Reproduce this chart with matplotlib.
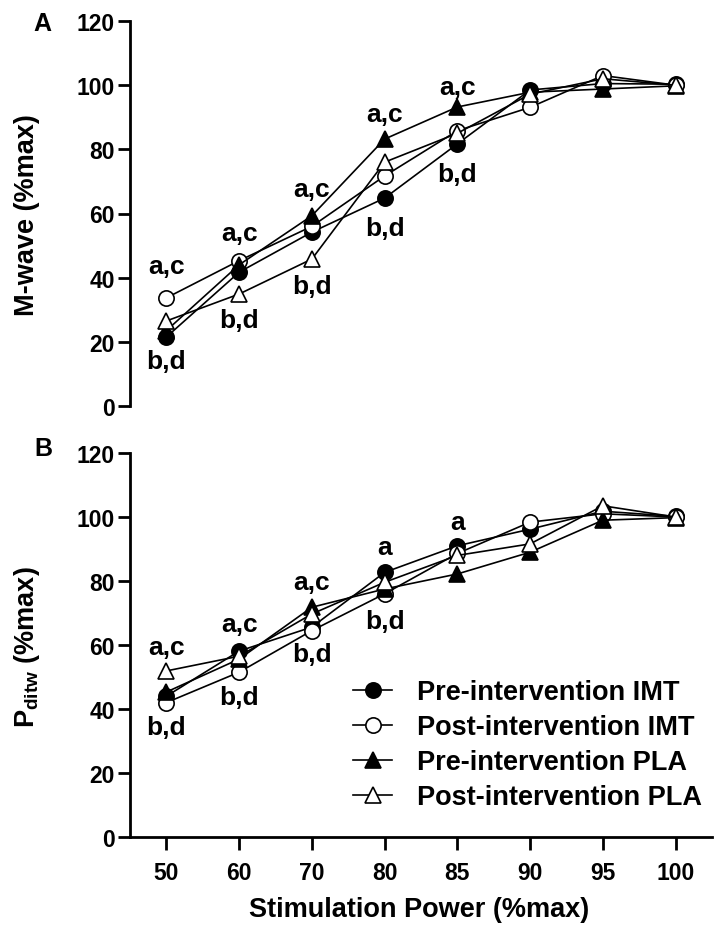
import matplotlib.pyplot as plt
import numpy as np

plt.rcParams['font.family'] = ['Liberation Sans', 'DejaVu Sans']
plt.rcParams['font.weight'] = 'bold'
plt.rcParams['mathtext.fontset'] = 'custom'
plt.rcParams['mathtext.bf'] = 'Liberation Sans:bold'

# stimulation power categories (%max)
power = ["50", "60", "70", "80", "85", "90", "95", "100"]

# Panel A: M-wave (%max)
mw_pre_imt = [21.5, 41.7, 54.2, 64.8, 81.7, 98.5, 100.5, 100.3]
mw_post_imt = [33.7, 45.3, 56.0, 71.7, 85.8, 93.1, 103.0, 100.0]
mw_pre_pla = [23.5, 44.0, 59.3, 83.2, 93.2, 97.8, 98.8, 99.8]
mw_post_pla = [26.5, 34.9, 45.8, 76.0, 85.0, 97.2, 102.0, 100.0]

# Panel B: Pditw (%max)
pd_pre_imt = [44.0, 58.1, 65.6, 82.7, 91.0, 96.2, 101.8, 100.2]
pd_post_imt = [42.0, 51.5, 64.5, 76.0, 88.6, 98.4, 101.0, 100.0]
pd_pre_pla = [45.3, 55.6, 71.8, 77.5, 82.2, 89.0, 99.0, 99.8]
pd_post_pla = [51.9, 56.5, 69.7, 79.6, 88.0, 91.6, 103.5, 100.0]

labels = ["Pre-intervention IMT", "Post-intervention IMT",
          "Pre-intervention PLA", "Post-intervention PLA"]

# significance letters: (category index, text, y value of text centre)
mw_sig = [(0, "a,c", 43.5), (0, "b,d", 14.0), (1, "a,c", 54.0), (1, "b,d", 26.8),
          (2, "a,c", 67.6), (2, "b,d", 37.5), (3, "a,c", 91.0), (3, "b,d", 55.4),
          (4, "a,c", 99.5), (4, "b,d", 72.3)]
pd_sig = [(0, "a,c", 59.4), (0, "b,d", 34.4), (1, "a,c", 66.6), (1, "b,d", 43.8),
          (2, "a,c", 79.7), (2, "b,d", 57.2), (3, "a", 90.6), (3, "b,d", 67.5),
          (4, "a", 98.4)]

styles = [dict(marker='o', mfc='black'), dict(marker='o', mfc='white'),
          dict(marker='^', mfc='black'), dict(marker='^', mfc='white')]

x = np.arange(len(power))
W, H = 716, 929

fig = plt.figure(figsize=(7.16, 9.29), dpi=100)
axA = fig.add_axes([130 / W, 1 - 407 / H, 582 / W, 385 / H])
axB = fig.add_axes([130 / W, 1 - 838 / H, 582 / W, 384 / H])


def draw(ax, series, sig):
    for ys, st, lab in zip(series, styles, labels):
        ms = 11 if st['marker'] == 'o' else 11.5
        ax.plot(x, ys, color='black', lw=1.2, marker=st['marker'], mfc=st['mfc'],
                mec='black', mew=1.2, ms=ms, label=lab)
    for i, txt, yv in sig:
        ax.text(x[i], yv, txt, ha='center', va='center', fontsize=19, fontweight='bold')
    ax.set_xlim(-0.5, 7.5)
    ax.set_ylim(0, 120)
    ax.set_yticks(np.arange(0, 121, 20))
    ax.spines['top'].set_visible(False)
    ax.spines['right'].set_visible(False)
    ax.spines['left'].set_linewidth(2)
    ax.spines['bottom'].set_linewidth(2)
    ax.tick_params(axis='y', direction='out', length=9, width=2, labelsize=16.5, pad=2)
    ax.tick_params(axis='x', direction='out', length=9, width=2, labelsize=16.5, pad=8)
    for t in ax.get_yticklabels() + ax.get_xticklabels():
        t.set_fontweight('bold')


draw(axA, [mw_pre_imt, mw_post_imt, mw_pre_pla, mw_post_pla], mw_sig)
draw(axB, [pd_pre_imt, pd_post_imt, pd_pre_pla, pd_post_pla], pd_sig)

axA.spines['bottom'].set_visible(False)
axA.set_xticks([])
axB.set_xticks(x)
axB.set_xticklabels(power)

fig.text(27 / W, 1 - 215 / H, "M-wave (%max)", rotation=90, fontsize=19.5,
         fontweight='bold', ha='center', va='center')
fig.text(27 / W, 1 - 647 / H, r"P$_{\mathbf{ditw}}$ (%max)", rotation=90, fontsize=19.5,
         fontweight='bold', ha='center', va='center')
fig.text(419 / W, 1 - 910 / H, "Stimulation Power (%max)", fontsize=19.5,
         fontweight='bold', ha='center', va='center')

fig.text(42 / W, 1 - 24 / H, "A", fontsize=18, fontweight='bold', ha='center', va='center')
fig.text(43 / W, 1 - 449 / H, "B", fontsize=18, fontweight='bold', ha='center', va='center')

leg = axB.legend(loc='upper left', bbox_to_anchor=(0.383, 0.411), frameon=False,
                 prop={'size': 19.5, 'weight': 'bold'}, handlelength=1.45,
                 labelspacing=0.33, handletextpad=0.92, borderpad=0, borderaxespad=0)

fig.savefig("out.png", dpi=100)
